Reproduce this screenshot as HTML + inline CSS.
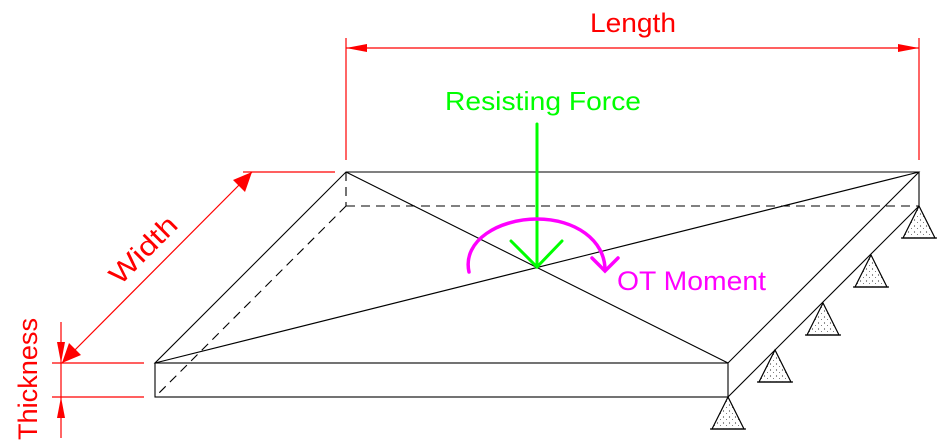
<!DOCTYPE html>
<html><head><meta charset="utf-8"><style>html,body{margin:0;padding:0;background:#fff}svg{display:block}</style></head>
<body>
<svg width="944" height="447" viewBox="0 0 944 447" xmlns="http://www.w3.org/2000/svg" font-family="Liberation Sans, sans-serif">
<defs>
<pattern id="dots" width="6" height="6" patternUnits="userSpaceOnUse">
<rect width="6" height="6" fill="#fff"/><circle cx="1.5" cy="2" r="0.6" fill="#333"/><circle cx="4.5" cy="4.5" r="0.5" fill="#555"/>
</pattern>
<g id="sup"><path d="M0,0 L-16,32 L16,32 Z" fill="url(#dots)" stroke="#000" stroke-width="1.2"/><line x1="-18" y1="32" x2="18" y2="32" stroke="#000" stroke-width="1.2"/></g>
</defs>
<g stroke="#000" stroke-width="1.1" fill="none">
<polygon points="346,172 919,172 728,363 155,363"/>
<rect x="155" y="363" width="573" height="34"/>
<line x1="919" y1="172" x2="919" y2="206"/>
<line x1="728" y1="397" x2="919" y2="206"/>
<line x1="346" y1="172" x2="728" y2="363"/>
<line x1="155" y1="363" x2="919" y2="172"/>
<g stroke-dasharray="9,6">
<line x1="346" y1="206" x2="919" y2="206"/>
<line x1="346" y1="172" x2="346" y2="206"/>
<line x1="346" y1="206" x2="155" y2="397"/>
</g>
</g>
<use href="#sup" x="728" y="397"/>
<use href="#sup" x="775" y="350"/>
<use href="#sup" x="823" y="303"/>
<use href="#sup" x="871" y="255"/>
<use href="#sup" x="919" y="206"/>
<g stroke="#f00" stroke-width="1.2" fill="#f00">
<line x1="346" y1="38" x2="346" y2="160"/>
<line x1="919" y1="38" x2="919" y2="160"/>
<line x1="346" y1="48" x2="919" y2="48"/>
<polygon points="346,48 367,44 367,52" stroke="none"/>
<polygon points="919,48 898,44 898,52" stroke="none"/>
<line x1="243" y1="172" x2="335" y2="172"/>
<line x1="252" y1="172" x2="62" y2="363"/>
<polygon points="252,172 245,192 233,180" stroke="none"/>
<polygon points="62,363 69,343 81,355" stroke="none"/>
<line x1="61" y1="322" x2="61" y2="438"/>
<line x1="52" y1="363" x2="144" y2="363"/>
<line x1="52" y1="397" x2="144" y2="397"/>
<polygon points="61,363 57,342 65,342" stroke="none"/>
<polygon points="61,397 57,418 65,418" stroke="none"/>
</g>
<text x="590" y="32" font-size="27" fill="#f00" textLength="86" lengthAdjust="spacingAndGlyphs">Length</text>
<text transform="translate(120,286) rotate(-45)" font-size="27" fill="#f00" textLength="84" lengthAdjust="spacingAndGlyphs">Width</text>
<text transform="translate(37,440) rotate(-90)" font-size="27" fill="#f00" textLength="122" lengthAdjust="spacingAndGlyphs">Thickness</text>
<g stroke="#0f0" stroke-width="3" fill="none" stroke-linecap="round">
<line x1="537" y1="124" x2="537" y2="267"/>
<polyline points="511,241 537,267 562,241"/>
</g>
<text x="445" y="110" font-size="26" fill="#0f0" textLength="196" lengthAdjust="spacingAndGlyphs">Resisting Force</text>
<g stroke="#f0f" stroke-width="3.5" fill="none" stroke-linecap="round">
<path d="M469,272 C462,240 500,219 537,219 C575,219 605,240 605,270"/>
<polyline points="592,258 605,271 618,258"/>
</g>
<text x="617" y="290" font-size="27" fill="#f0f" textLength="149" lengthAdjust="spacingAndGlyphs">OT Moment</text>
</svg>
</body></html>
